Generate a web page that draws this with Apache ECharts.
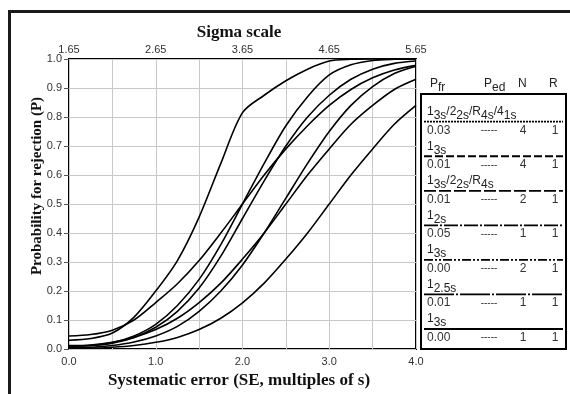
<!DOCTYPE html>
<html>
<head>
<meta charset="utf-8">
<script src="https://cdn.jsdelivr.net/npm/echarts@6/dist/echarts.min.js"></script>
<style>
  html, body { margin: 0; padding: 0; background: #fff; }
  #chart { width: 570px; height: 394px; }
</style>
</head>
<body>
<div id="chart"></div>
<script>
// systematic error steps (SE, multiples of s)
const seSteps = [0, 0.25, 0.5, 0.75, 1, 1.25, 1.5, 1.75, 2, 2.25, 2.5, 2.75, 3, 3.25, 3.5, 3.75, 4];

// probability for rejection
const pMulti4 = [0.03, 0.036, 0.055, 0.11, 0.20, 0.305, 0.455, 0.64, 0.815, 0.875, 0.925, 0.965, 0.993, 0.999, 1, 1, 1];
const p13sN4 = [0.01, 0.012, 0.022, 0.045, 0.085, 0.15, 0.24, 0.36, 0.50, 0.64, 0.77, 0.87, 0.945, 0.98, 0.995, 0.999, 1];
const pMulti2 = [0.01, 0.012, 0.02, 0.04, 0.075, 0.13, 0.21, 0.32, 0.45, 0.58, 0.70, 0.80, 0.875, 0.93, 0.965, 0.985, 0.993];
const p12s = [0.045, 0.05, 0.065, 0.10, 0.16, 0.225, 0.305, 0.40, 0.50, 0.60, 0.69, 0.77, 0.84, 0.895, 0.935, 0.962, 0.978];
const p13sN2 = [0.005, 0.006, 0.012, 0.024, 0.045, 0.078, 0.13, 0.20, 0.29, 0.40, 0.52, 0.64, 0.75, 0.84, 0.905, 0.95, 0.975];
const p125s = [0.012, 0.014, 0.023, 0.04, 0.067, 0.106, 0.16, 0.227, 0.31, 0.40, 0.50, 0.60, 0.69, 0.775, 0.84, 0.895, 0.93];
const p13sN1 = [0.003, 0.003, 0.006, 0.012, 0.023, 0.04, 0.067, 0.106, 0.159, 0.227, 0.31, 0.40, 0.50, 0.60, 0.69, 0.775, 0.84];

const curves = [pMulti4, p13sN4, pMulti2, p12s, p13sN2, p125s, p13sN1];

// legend table
const ruleLabels = [
  '{n|1}{s|3s}{n|/2}{s|2s}{n|/R}{s|4s}{n|/4}{s|1s}',
  '{n|1}{s|3s}',
  '{n|1}{s|3s}{n|/2}{s|2s}{n|/R}{s|4s}',
  '{n|1}{s|2s}',
  '{n|1}{s|3s}',
  '{n|1}{s|2.5s}',
  '{n|1}{s|3s}'
];
const pfrValues = ['0.03', '0.01', '0.01', '0.05', '0.00', '0.01', '0.00'];
const pedValues = ['-----', '-----', '-----', '-----', '-----', '-----', '-----'];
const nValues = ['4', '4', '2', '1', '2', '1', '1'];
const rValues = ['1', '1', '1', '1', '1', '1', '1'];

// tick labels
const xTickLabels = ['0.0', '1.0', '2.0', '3.0', '4.0'];
const sigmaTickLabels = ['1.65', '2.65', '3.65', '4.65', '5.65'];
const yTickLabels = ['0.0', '0.1', '0.2', '0.3', '0.4', '0.5', '0.6', '0.7', '0.8', '0.9', '1.0'];

const lineDashes = [[2, 1], [8, 3], [12, 3], [14, 2, 2, 2], [9, 2, 2, 2, 2, 2], [30, 2, 2, 2], null];

const sans = '"Liberation Sans", Arial, sans-serif';
const serif = '"Liberation Serif", "Times New Roman", serif';

const chart = echarts.init(document.getElementById('chart'));

const series = curves.map((vals) => ({
  type: 'line',
  xAxisIndex: 0,
  yAxisIndex: 0,
  showSymbol: false,
  smooth: 0.3,
  silent: true,
  clip: true,
  lineStyle: { color: '#000', width: 1.6 },
  data: seSteps.map((x, k) => [x, vals[k]])
}));

const graphics = [
  {
    type: 'rect',
    shape: { x: 9.5, y: 11.5, width: 700, height: 500 },
    style: { fill: 'none', stroke: '#1a1a1a', lineWidth: 3 }
  },
  {
    type: 'text',
    x: 239, y: 33,
    style: { text: 'Sigma scale', font: 'bold 17px ' + serif, fill: '#111', align: 'center', verticalAlign: 'middle' }
  },
  {
    type: 'text',
    x: 37, y: 186,
    rotation: Math.PI / 2,
    style: { text: 'Probability for rejection (P)', font: 'bold 15px ' + serif, fill: '#111', align: 'center', verticalAlign: 'middle' }
  },
  {
    type: 'text',
    x: 239, y: 381,
    style: { text: 'Systematic error (SE, multiples of s)', font: 'bold 17px ' + serif, fill: '#111', align: 'center', verticalAlign: 'middle' }
  },
  {
    type: 'rect',
    shape: { x: 421, y: 94, width: 145, height: 255 },
    style: { fill: 'none', stroke: '#000', lineWidth: 2 }
  }
];

const richStyle = {
  n: { fontSize: 12, fontFamily: sans, fill: '#222', padding: [0, 0, 4, 0] },
  s: { fontSize: 12, fontFamily: sans, fill: '#222', padding: [4, 0, 0, 0] }
};

// header
[
  { t: '{n|P}{s|fr}', x: 430 },
  { t: '{n|P}{s|ed}', x: 484 },
  { t: '{n|N}', x: 518 },
  { t: '{n|R}', x: 549 }
].forEach(h => {
  graphics.push({
    type: 'text', x: h.x, y: 86,
    style: { text: h.t, rich: richStyle, align: 'left', verticalAlign: 'middle' }
  });
});

const rowTop = 121.7;
const rowStep = 34.55;
ruleLabels.forEach((lab, i) => {
  const ly = rowTop + i * rowStep;
  graphics.push({
    type: 'text', x: 427, y: ly - 8,
    style: { text: lab, rich: richStyle, align: 'left', verticalAlign: 'middle' }
  });
  graphics.push({
    type: 'line',
    shape: { x1: 424, y1: ly, x2: 563, y2: ly },
    style: { stroke: '#000', lineWidth: 1.8, lineDash: lineDashes[i] || null }
  });
  const vy = ly + 8.5;
  graphics.push({ type: 'text', x: 427, y: vy, style: { text: pfrValues[i], font: '12px ' + sans, fill: '#333', align: 'left', verticalAlign: 'middle' } });
  graphics.push({ type: 'text', x: 489, y: vy, style: { text: pedValues[i], font: '10px ' + sans, fill: '#333', align: 'center', verticalAlign: 'middle' } });
  graphics.push({ type: 'text', x: 523, y: vy, style: { text: nValues[i], font: '12px ' + sans, fill: '#333', align: 'center', verticalAlign: 'middle' } });
  graphics.push({ type: 'text', x: 555, y: vy, style: { text: rValues[i], font: '12px ' + sans, fill: '#333', align: 'center', verticalAlign: 'middle' } });
});

const option = {
  animation: false,
  backgroundColor: '#fff',
  grid: {
    left: 69, top: 59, width: 347, height: 290,
    show: true, borderColor: '#000', borderWidth: 2, backgroundColor: 'transparent'
  },
  xAxis: [
    {
      type: 'value', position: 'bottom', min: 0, max: 4, interval: 0.5,
      axisLine: { show: false },
      axisTick: { show: false },
      axisLabel: {
        margin: 7, color: '#333', fontSize: 11, fontFamily: sans,
        formatter: v => (Math.abs(v % 1) < 1e-6 ? xTickLabels[Math.round(v)] : '')
      },
      splitLine: { show: true, lineStyle: { color: '#c8c8c8', width: 1 } }
    },
    {
      type: 'value', position: 'top', min: 0, max: 4, interval: 1,
      axisLine: { show: false },
      axisTick: { show: false },
      axisLabel: {
        margin: 4, color: '#333', fontSize: 11, fontFamily: sans,
        formatter: v => sigmaTickLabels[Math.round(v)]
      },
      splitLine: { show: false }
    }
  ],
  yAxis: {
    type: 'value', min: 0, max: 1, interval: 0.1,
    axisLine: { show: false },
    axisTick: { show: true, length: 5, lineStyle: { color: '#555' } },
    axisLabel: {
      margin: 7, color: '#333', fontSize: 11, fontFamily: sans,
      formatter: v => yTickLabels[Math.round(v * 10)]
    },
    splitLine: { show: true, lineStyle: { color: '#c8c8c8', width: 1 } }
  },
  series: series,
  graphic: graphics
};

chart.setOption(option);
</script>
</body>
</html>
